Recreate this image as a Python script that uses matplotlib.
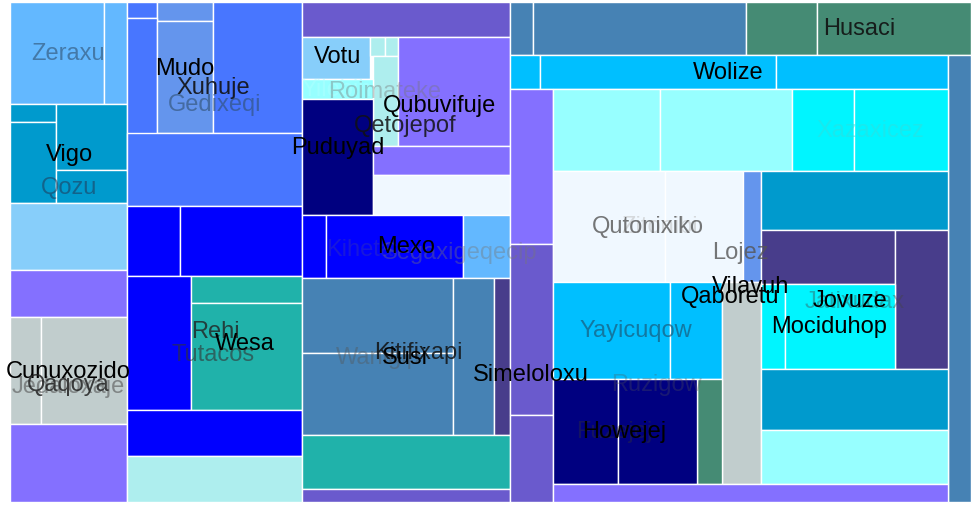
import matplotlib
matplotlib.use("Agg")
import matplotlib.pyplot as plt
from matplotlib.patches import Rectangle

plt.rcParams["font.family"] = ["Liberation Sans", "DejaVu Sans"]

# treemap cells: left, top, right, bottom (layout units), colour
cell_x0 = [10, 104, 10, 10, 56, 56, 10, 10, 10, 41, 10,
           127, 157, 127, 157, 213, 127, 127, 180, 127, 191, 191, 127, 127,
           302, 302, 370, 385, 373, 302, 302, 398, 373, 373, 302, 326, 463, 302, 302, 453, 494, 302, 302,
           510, 533, 746, 817, 510, 540, 776, 948, 510, 510, 510, 553, 660, 792, 854,
           553, 665, 743, 761, 761, 895, 553, 670, 722, 697, 553, 618, 761, 785, 761, 761, 553]
cell_y0 = [3, 3, 105, 123, 105, 171, 204, 271, 318, 318, 425,
           3, 3, 19, 22, 3, 134, 207, 207, 277, 277, 304, 411, 457,
           3, 38, 38, 38, 57, 80, 100, 38, 147, 176, 216, 216, 216, 279, 354, 279, 279, 436, 490,
           3, 3, 3, 3, 56, 56, 56, 56, 90, 245, 416, 90, 90, 90, 90,
           172, 172, 172, 172, 231, 231, 283, 283, 283, 380, 380, 380, 285, 285, 370, 431, 485]
cell_x1 = [104, 127, 56, 56, 127, 127, 127, 127, 41, 127, 127,
           157, 213, 157, 213, 302, 302, 180, 302, 191, 302, 302, 302, 302,
           510, 370, 385, 398, 398, 373, 373, 510, 510, 510, 326, 463, 510, 453, 453, 494, 510, 510, 510,
           533, 746, 817, 971, 540, 776, 948, 971, 553, 553, 553, 660, 792, 854, 948,
           665, 743, 761, 948, 895, 948, 670, 722, 761, 722, 618, 697, 785, 895, 948, 948, 948]
cell_y1 = [105, 105, 123, 204, 171, 204, 271, 318, 425, 425, 503,
           19, 22, 172, 134, 134, 207, 277, 277, 411, 304, 411, 457, 503,
           38, 80, 57, 57, 147, 100, 216, 147, 176, 216, 279, 279, 279, 354, 436, 436, 436, 490, 503,
           56, 56, 56, 56, 90, 90, 90, 503, 245, 416, 503, 172, 172, 172, 172,
           283, 283, 283, 231, 285, 370, 380, 380, 485, 485, 485, 485, 370, 370, 431, 485, 503]
cell_color = ["#63b8ff", "#63b8ff", "#009acd", "#009acd", "#009acd", "#009acd", "#87cefa", "#8470ff",
              "#c1cdcd", "#c1cdcd", "#8470ff",
              "#4876ff", "#6495ed", "#4876ff", "#6495ed", "#4876ff", "#4876ff", "#0000ff", "#0000ff",
              "#0000ff", "#20b2aa", "#20b2aa", "#0000ff", "#aeeeee",
              "#6a5acd", "#87cefa", "#aeeeee", "#aeeeee", "#aeeeee", "#97ffff", "#000080", "#8470ff",
              "#8470ff", "#f0f8ff", "#0000ff", "#0000ff", "#63b8ff", "#4682b4", "#4682b4", "#4682b4",
              "#483d8b", "#20b2aa", "#6a5acd",
              "#4682b4", "#4682b4", "#458b74", "#458b74", "#00bfff", "#00bfff", "#00bfff", "#4682b4",
              "#8470ff", "#6a5acd", "#6a5acd", "#97ffff", "#97ffff", "#00f5ff", "#00f5ff",
              "#f0f8ff", "#f0f8ff", "#6495ed", "#009acd", "#483d8b", "#483d8b", "#00bfff", "#00bfff",
              "#c1cdcd", "#458b74", "#000080", "#000080", "#00f5ff", "#00f5ff", "#009acd", "#97ffff",
              "#8470ff"]

# labels: text, x, y, colour, alpha
label_text = ["Zeraxu", "Vigo", "Qozu", "Mudo", "Xuhuje", "Gedixeqi", "Votu", "Yilebih", "Roimateke",
              "Qubuvifuje", "Qetojepof", "Puduyad", "Kiheta", "Segaxigeqecip", "Mexo", "Rehi", "Tutacos",
              "Wesa", "Jedaloxaje", "Cunuxozido", "Qaqoya", "Wanigip", "Kitifixapi", "Susi", "Simeloloxu",
              "Husaci", "Wolize", "Xazaxicez", "Zitonibi", "Qutonixiko", "Lojez", "Jatixudax", "Vilavuh",
              "Qaboretu", "Jovuze", "Mociduhop", "Yayicuqow", "Ruzigow", "Fuzejej", "Howejej"]
label_x = [68, 69, 69, 185, 213, 215, 338, 337, 385, 440, 405, 338, 360, 460, 406, 215, 213, 245, 68, 68,
           68, 378, 418, 405, 531, 859, 728, 870, 660, 648, 740, 855, 751, 730, 850, 829, 636, 656, 614, 624]
label_y = [54, 155, 188, 69, 88, 105, 57, 90, 92, 106, 126, 148, 250, 253, 247, 332, 355, 344, 387, 372,
           385, 358, 353, 358, 375, 29, 73, 131, 227, 227, 253, 302, 287, 297, 301, 327, 331, 385, 432, 432]
label_color = ["#2f4f6f", "#000000", "#1f3f5f", "#000000", "#111111", "#2f4f6f", "#000000", "#b0ffff",
               "#777777", "#000000", "#111111", "#000000", "#3a3aaa", "#777777", "#000000", "#222222",
               "#333333", "#000000", "#555555", "#000000", "#222222", "#555555", "#111111", "#000000",
               "#000000", "#111111", "#000000", "#33dddd", "#bbbbbb", "#555555", "#555555", "#444444",
               "#000000", "#000000", "#000000", "#000000", "#1a5a7a", "#555555", "#333333", "#000000"]
label_alpha = [0.6, 1, 0.6, 1, 0.9, 0.6, 1, 0.5, 0.4, 1, 0.85, 1, 0.4, 0.4, 1, 0.8, 0.6, 1, 0.6, 1,
               0.85, 0.4, 0.85, 1, 1, 0.9, 1, 0.5, 0.5, 0.8, 0.8, 0.4, 1, 1, 1, 1, 0.7, 0.3, 0.4, 1]

fig = plt.figure(figsize=(9.73, 5.06), dpi=100)
ax = fig.add_axes([0, 0, 1, 1])
ax.set_xlim(0, 973)
ax.set_ylim(506, 0)
ax.axis("off")

for x0, y0, x1, y1, c in zip(cell_x0, cell_y0, cell_x1, cell_y1, cell_color):
    ax.add_patch(Rectangle((x0, y0), x1 - x0, y1 - y0, facecolor=c, edgecolor="white", linewidth=1))

for t, x, y, c, a in zip(label_text, label_x, label_y, label_color, label_alpha):
    ax.text(x, y, t, color=c, alpha=a, fontsize=17, ha="center", va="center")

fig.savefig("out.png", dpi=100)
